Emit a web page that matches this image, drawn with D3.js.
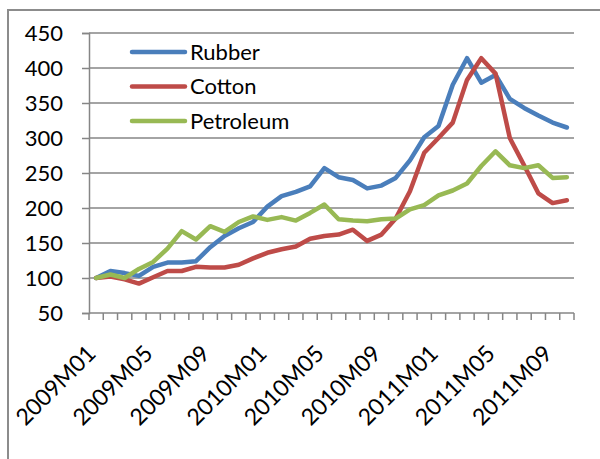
<!DOCTYPE html>
<html><head><meta charset="utf-8">
<script src="https://cdn.jsdelivr.net/npm/d3@7"></script>
<style>body{margin:0;background:#fff}svg{display:block}text{font-family:Lato,"Open Sans",sans-serif}</style>
</head><body><div id="c"></div>
<script>
const categories = (function(){ const a=[]; for(const y of [2009,2010,2011]) for(let m=1;m<=12;m++){ if(y===2011&&m>10) break; a.push(y+"M"+String(m).padStart(2,"0")); } return a; })();
const rubber = [100,110,107,103,116,122,122,124,144,160,171,180,202,217,223,231,257,244,240,228,232,243,268,301,317,376,414,379,390,356,343,332,322,315];
const cotton = [100,102,98,92,101,110,110,116,115,115,119,128,136,141,145,156,160,162,169,153,162,185,224,279,300,322,383,414,392,300,261,221,207,211];
const petroleum = [100,105,100,113,123,142,167,155,174,166,180,188,183,187,182,193,205,184,182,181,184,185,198,204,218,225,235,260,281,261,257,261,243,244];
const yTicks = [50,100,150,200,250,300,350,400,450];
const xLabels = ["2009M01","2009M05","2009M09","2010M01","2010M05","2010M09","2011M01","2011M05","2011M09"];
const series = [
  {name:"Rubber", values:rubber, color:"#4a7ebb"},
  {name:"Cotton", values:cotton, color:"#be4b48"},
  {name:"Petroleum", values:petroleum, color:"#98b954"}
];

const W=600,H=459;
const svg=d3.select("#c").append("svg").attr("width",W).attr("height",H);
svg.append("rect").attr("x",8).attr("y",10).attr("width",W).attr("height",H).attr("fill","none").attr("stroke","#8c8c8c").attr("stroke-width",2);

const x=d3.scaleBand().domain(categories).range([89,574]);
const y=d3.scaleLinear().domain([50,450]).range([313,33]);

// gridlines
svg.append("g").selectAll("line").data(yTicks.slice(1)).join("line")
  .attr("x1",89).attr("x2",574).attr("y1",d=>y(d)).attr("y2",d=>y(d))
  .attr("stroke","#868686").attr("stroke-width",1.5);

// y axis
const ya=svg.append("g").attr("transform","translate(89,0)")
  .call(d3.axisLeft(y).tickValues(yTicks).tickSize(7).tickPadding(19));
ya.select(".domain").attr("stroke","#868686").attr("stroke-width",1.5);
ya.selectAll(".tick line").attr("stroke","#868686").attr("stroke-width",1.5);
ya.selectAll("text").attr("font-size",22).attr("fill","#000").attr("font-family","Lato");

// x axis
const xa=svg.append("g").attr("transform","translate(0,313)")
  .call(d3.axisBottom(x).tickValues(xLabels).tickSize(0).tickPadding(0));
xa.select(".domain").remove();
xa.selectAll("text").attr("font-size",23).attr("fill","#000").attr("font-family","Lato")
  .attr("text-anchor","end").attr("dy",0).attr("y",0)
  .attr("transform","translate(1,42) rotate(-45)");
// x tick marks between categories
const bounds=categories.map(c=>x(c)).concat([574]);
svg.append("g").selectAll("line").data(bounds).join("line")
  .attr("x1",d=>d).attr("x2",d=>d).attr("y1",313).attr("y2",320)
  .attr("stroke","#868686").attr("stroke-width",1.5);
svg.append("line").attr("x1",89).attr("x2",574).attr("y1",313).attr("y2",313).attr("stroke","#868686").attr("stroke-width",1.5);

const line=d3.line().x((d,i)=>x(categories[i])+x.bandwidth()/2).y(d=>y(d));
svg.append("g").selectAll("path").data(series).join("path")
  .attr("d",d=>line(d.values)).attr("fill","none").attr("stroke",d=>d.color)
  .attr("stroke-width",4.5).attr("stroke-linejoin","round").attr("stroke-linecap","round");

// legend
const lg=svg.append("g").selectAll("g").data(series).join("g")
  .attr("transform",(d,i)=>`translate(132,${52+i*34.5})`);
lg.append("line").attr("x1",0).attr("x2",53).attr("stroke",d=>d.color).attr("stroke-width",4.5).attr("stroke-linecap","round");
lg.append("text").attr("x",58).attr("dy","0.35em").attr("font-size",22).attr("fill","#000").text(d=>d.name);
</script></body></html>
